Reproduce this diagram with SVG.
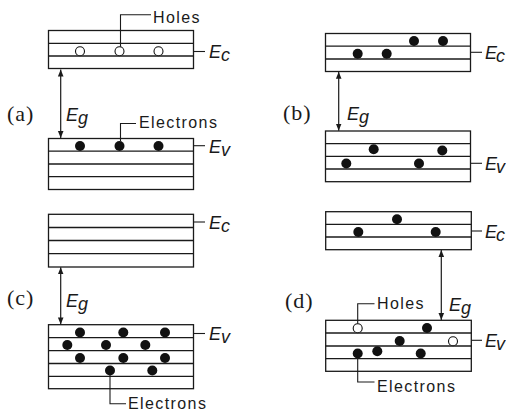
<svg xmlns="http://www.w3.org/2000/svg" width="506" height="414" viewBox="0 0 506 414">
<defs>
<style>
.band{fill:#fff;stroke:#1a1a1a;stroke-width:1.3}
.ln{stroke:#1a1a1a;stroke-width:1.3;fill:none}
.lead{stroke:#1a1a1a;stroke-width:1.1;fill:none}
.el{fill:#111}
.ho{fill:#fff;stroke:#111;stroke-width:1.1}
.lbl{font-family:"Liberation Sans",Arial,sans-serif;font-size:16px;letter-spacing:1.4px;fill:#1a1a1a}
.en{font-family:"Liberation Sans",Arial,sans-serif;font-size:18px;font-style:italic;fill:#1a1a1a}
.pl{font-family:"Liberation Serif","Times New Roman",serif;font-size:22px;letter-spacing:1px;fill:#1a1a1a}
.arr{stroke:#1a1a1a;stroke-width:1.2;fill:none;marker-start:url(#ah);marker-end:url(#ah)}
</style>
<marker id="ah" viewBox="0 0 10 10" refX="10" refY="5" markerWidth="7" markerHeight="7" markerUnits="userSpaceOnUse" orient="auto-start-reverse">
<path d="M0,1 L10,5 L0,9 Z" fill="#1a1a1a"/>
</marker>
</defs>

<!-- Panel (a) -->
<g id="panel-a">
<text class="pl" x="7" y="121">(a)</text>
<g id="a-cb">
<rect class="band" x="48.5" y="30.5" width="145" height="38"/>
<line class="ln" x1="48.5" y1="43.3" x2="193.5" y2="43.3"/>
<line class="ln" x1="48.5" y1="56" x2="193.5" y2="56"/>
<circle class="ho" cx="80" cy="51.3" r="4.5"/>
<circle class="ho" cx="119.5" cy="51.3" r="4.5"/>
<circle class="ho" cx="158.5" cy="51.3" r="4.5"/>
</g>
<g id="a-vb">
<rect class="band" x="48.5" y="138.5" width="145" height="51"/>
<line class="ln" x1="48.5" y1="151.2" x2="193.5" y2="151.2"/>
<line class="ln" x1="48.5" y1="164" x2="193.5" y2="164"/>
<line class="ln" x1="48.5" y1="176.7" x2="193.5" y2="176.7"/>
<circle class="el" cx="80" cy="146" r="5"/>
<circle class="el" cx="119.5" cy="146" r="5"/>
<circle class="el" cx="158.5" cy="146" r="5"/>
</g>
<text class="lbl" x="153" y="22.5">Holes</text>
<text class="lbl" x="139" y="128">Electrons</text>
<text class="en" x="209" y="58">E<tspan dy="3">c</tspan></text>
<text class="en" x="209" y="153">E<tspan dy="3">v</tspan></text>
<text class="en" x="66" y="121">E<tspan dy="3">g</tspan></text>
</g>

<!-- Panel (b) -->
<g id="panel-b">
<text class="pl" x="283" y="120">(b)</text>
<g id="b-cb">
<rect class="band" x="325.5" y="33.5" width="145" height="38"/>
<line class="ln" x1="325.5" y1="46.2" x2="470.5" y2="46.2"/>
<line class="ln" x1="325.5" y1="59" x2="470.5" y2="59"/>
<circle class="el" cx="414" cy="41" r="5"/>
<circle class="el" cx="443" cy="41" r="5"/>
<circle class="el" cx="357.7" cy="53.8" r="5"/>
<circle class="el" cx="386.7" cy="53.8" r="5"/>
</g>
<g id="b-vb">
<rect class="band" x="325.5" y="131" width="145" height="50.7"/>
<line class="ln" x1="325.5" y1="143.7" x2="470.5" y2="143.7"/>
<line class="ln" x1="325.5" y1="156.3" x2="470.5" y2="156.3"/>
<line class="ln" x1="325.5" y1="169" x2="470.5" y2="169"/>
<circle class="el" cx="373.7" cy="149.2" r="5"/>
<circle class="el" cx="442.3" cy="150.5" r="5"/>
<circle class="el" cx="346.3" cy="163.5" r="5"/>
<circle class="el" cx="419" cy="163.5" r="5"/>
</g>
<text class="en" x="485" y="59">E<tspan dx="-1" dy="3">c</tspan></text>
<text class="en" x="485" y="170">E<tspan dx="-1" dy="3">v</tspan></text>
<text class="en" x="347" y="120">E<tspan dy="3">g</tspan></text>
</g>

<!-- Panel (c) -->
<g id="panel-c">
<text class="pl" x="7" y="305">(c)</text>
<g id="c-cb">
<rect class="band" x="48.5" y="214.3" width="145" height="52.7"/>
<line class="ln" x1="48.5" y1="227.5" x2="193.5" y2="227.5"/>
<line class="ln" x1="48.5" y1="240.5" x2="193.5" y2="240.5"/>
<line class="ln" x1="48.5" y1="253.7" x2="193.5" y2="253.7"/>
</g>
<g id="c-vb">
<rect class="band" x="48.5" y="324.7" width="145" height="64"/>
<line class="ln" x1="48.5" y1="337.6" x2="193.5" y2="337.6"/>
<line class="ln" x1="48.5" y1="350.6" x2="193.5" y2="350.6"/>
<line class="ln" x1="48.5" y1="363.5" x2="193.5" y2="363.5"/>
<line class="ln" x1="48.5" y1="376.3" x2="193.5" y2="376.3"/>
<circle class="el" cx="80" cy="332.5" r="5"/>
<circle class="el" cx="123.3" cy="332.5" r="5"/>
<circle class="el" cx="165" cy="332.5" r="5"/>
<circle class="el" cx="67.3" cy="345" r="5"/>
<circle class="el" cx="106" cy="345" r="5"/>
<circle class="el" cx="145.3" cy="345" r="5"/>
<circle class="el" cx="80" cy="358" r="5"/>
<circle class="el" cx="123.3" cy="358" r="5"/>
<circle class="el" cx="165" cy="358" r="5"/>
<circle class="el" cx="110" cy="370.5" r="5"/>
<circle class="el" cx="152.3" cy="370.5" r="5"/>
</g>
<text class="lbl" x="128" y="409">Electrons</text>
<text class="en" x="209" y="229">E<tspan dy="3">c</tspan></text>
<text class="en" x="209" y="340">E<tspan dy="3">v</tspan></text>
<text class="en" x="66" y="307">E<tspan dy="3">g</tspan></text>
</g>

<!-- Panel (d) -->
<g id="panel-d">
<text class="pl" x="285" y="308">(d)</text>
<g id="d-cb">
<rect class="band" x="325.7" y="211.7" width="145.6" height="38"/>
<line class="ln" x1="325.7" y1="224.3" x2="471.3" y2="224.3"/>
<line class="ln" x1="325.7" y1="237" x2="471.3" y2="237"/>
<circle class="el" cx="397" cy="219.3" r="5"/>
<circle class="el" cx="358.3" cy="232" r="5"/>
<circle class="el" cx="435.7" cy="232" r="5"/>
</g>
<g id="d-vb">
<rect class="band" x="325.7" y="320.3" width="145.6" height="51"/>
<line class="ln" x1="325.7" y1="333" x2="471.3" y2="333"/>
<line class="ln" x1="325.7" y1="346" x2="471.3" y2="346"/>
<line class="ln" x1="325.7" y1="358.7" x2="471.3" y2="358.7"/>
<circle class="ho" cx="357.7" cy="328.3" r="4.5"/>
<circle class="el" cx="427" cy="328" r="5"/>
<circle class="el" cx="399.7" cy="341" r="5"/>
<circle class="ho" cx="453" cy="341.3" r="4.5"/>
<circle class="el" cx="357.7" cy="353.5" r="5"/>
<circle class="el" cx="377.3" cy="351.3" r="5"/>
<circle class="el" cx="420.7" cy="353.5" r="5"/>
</g>
<text class="lbl" x="377" y="308.5">Holes</text>
<text class="lbl" x="377" y="392">Electrons</text>
<text class="en" x="485" y="238">E<tspan dx="-1" dy="3">c</tspan></text>
<text class="en" x="485" y="347">E<tspan dx="-1" dy="3">v</tspan></text>
<text class="en" x="449" y="311">E<tspan dy="3">g</tspan></text>
</g>

<!-- Connectors -->
<g id="connectors">
<line class="arr" x1="60.7" y1="69.5" x2="60.7" y2="138"/>
<line class="arr" x1="338.7" y1="71.8" x2="338.7" y2="130.7"/>
<line class="arr" x1="60.7" y1="267.3" x2="60.7" y2="324.4"/>
<line class="arr" x1="441.3" y1="250" x2="441.3" y2="320"/>
<polyline class="lead" points="120.5,46.8 120.5,14.7 151,14.7"/>
<polyline class="lead" points="120.5,141 120.5,123.5 136,123.5"/>
<polyline class="lead" points="110,375 110,403.7 126,403.7"/>
<polyline class="lead" points="357.7,323.8 357.7,303.7 374.5,303.7"/>
<polyline class="lead" points="357.7,358 357.7,382 374.5,382"/>
<line class="lead" x1="193.5" y1="51.5" x2="205" y2="51.5"/>
<line class="lead" x1="193.5" y1="145.7" x2="205" y2="145.7"/>
<line class="lead" x1="470.5" y1="52.3" x2="482" y2="52.3"/>
<line class="lead" x1="470.5" y1="163.3" x2="482" y2="163.3"/>
<line class="lead" x1="193.5" y1="222" x2="205" y2="222"/>
<line class="lead" x1="193.5" y1="333.5" x2="205" y2="333.5"/>
<line class="lead" x1="471.3" y1="231" x2="482" y2="231"/>
<line class="lead" x1="471.3" y1="340.3" x2="482" y2="340.3"/>
</g>
</svg>
